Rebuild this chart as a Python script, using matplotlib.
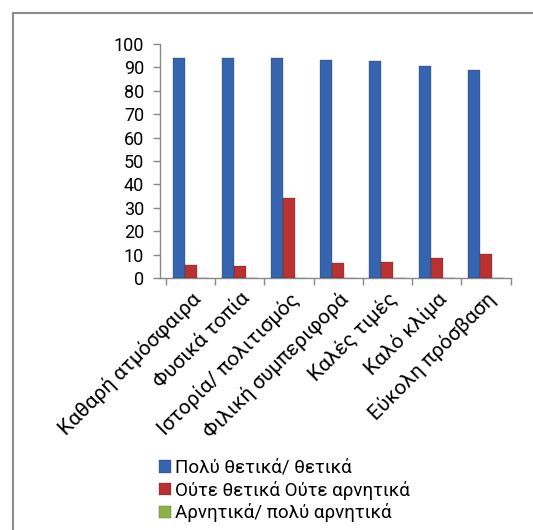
import matplotlib
matplotlib.use("Agg")
import matplotlib.pyplot as plt
import numpy as np
from matplotlib.patches import Rectangle

categories = ["Καθαρή ατμόσφαιρα", "Φυσικά τοπία", "Ιστορία/ πολιτισμός",
              "Φιλική συμπεριφορά", "Καλές τιμές", "Καλό κλίμα", "Εύκολη πρόσβαση"]
very_positive = [94.2, 94.0, 94.0, 93.2, 92.8, 90.8, 88.9]
neutral = [5.5, 5.0, 34.0, 6.5, 6.8, 8.5, 10.2]
negative = [0, 0, 0, 0, 0, 0, 0]
series_names = ["Πολύ θετικά/ θετικά", "Ούτε θετικά Ούτε αρνητικά", "Αρνητικά/ πολύ αρνητικά"]
colors = ["#3565B0", "#BA3230", "#8DB443"]
yticks = [0, 10, 20, 30, 40, 50, 60, 70, 80, 90, 100]

plt.rcParams['font.family'] = ['Roboto', 'DejaVu Sans']
W, H = 533, 530
fig = plt.figure(figsize=(W / 100, H / 100), dpi=100)

# chart border
fig.patches.append(Rectangle((13 / W, -0.1), 1.2, 1 - 13 / H + 0.1, transform=fig.transFigure,
                             fill=False, edgecolor="#8C8C8C", linewidth=1.5))

cat_w = 49.2
x0_px = 159.5
ax = fig.add_axes([x0_px / W, 1 - 278 / H, (510.5 - x0_px) / W, (278 - 44) / H])
x = np.arange(len(categories))
w = 0.245
for i, (vals, c, name) in enumerate(zip([very_positive, neutral, negative], colors, series_names)):
    ax.bar(x + (i - 1) * w, vals, width=w, color=c, label=name,
           edgecolor="#2a2a2a", linewidth=0.2, zorder=3)

ax.set_xlim(-0.5 - (166 - x0_px) / cat_w, len(categories) - 0.5)
ax.set_ylim(0, 100)
ax.set_yticks(yticks)
ax.set_yticklabels([str(t) for t in yticks], fontsize=13)
ax.set_xticks(x)
ax.set_xticklabels(categories, rotation=45, ha="right", va="top", rotation_mode="anchor", fontsize=15)
ax.tick_params(axis="x", which="major", length=0, pad=8)
ax.set_xticks(np.arange(-0.5, len(categories)), minor=True)
ax.tick_params(axis="x", which="minor", length=5, color="#888888", width=1)
ax.tick_params(axis="y", length=5, color="#888888", width=1, pad=6)
for s in ["top", "right"]:
    ax.spines[s].set_visible(False)
for s in ["left", "bottom"]:
    ax.spines[s].set_color("#888888")
    ax.spines[s].set_linewidth(1)

leg = fig.legend(loc="upper left", bbox_to_anchor=(159 / W, 1 - 459 / H), frameon=False,
                 fontsize=13.5, handlelength=0.65, handleheight=0.65, handletextpad=0.2,
                 labelspacing=0.2, borderaxespad=0, borderpad=0)

fig.savefig("out.png", dpi=100)
